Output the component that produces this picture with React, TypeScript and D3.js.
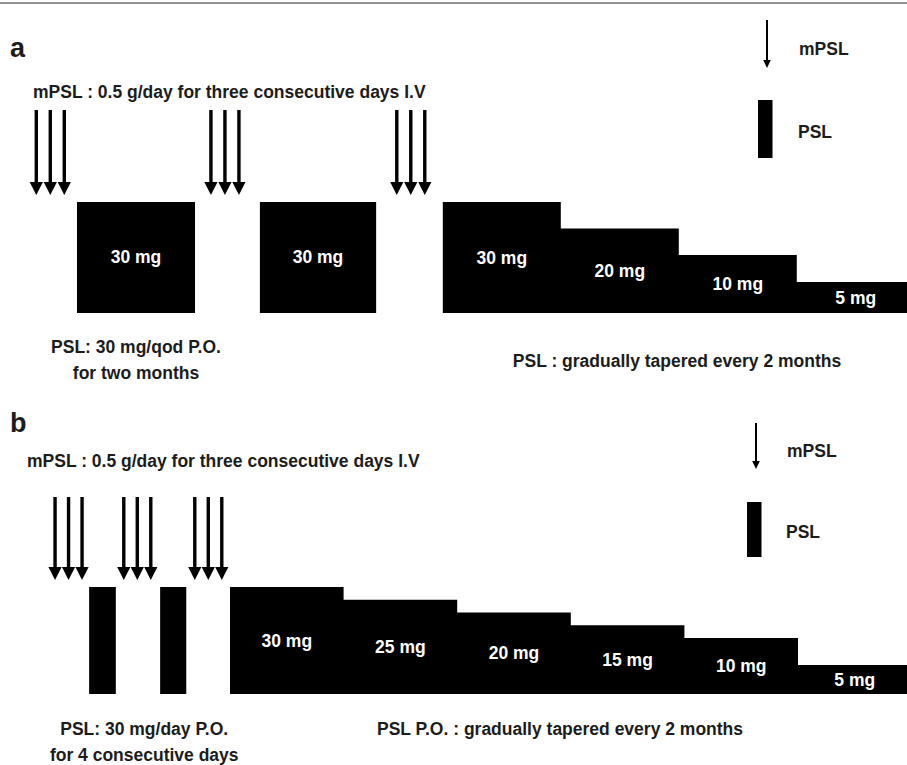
import { useEffect, useRef } from 'react';
import * as d3 from 'd3';

// Panel a: month (relative to first PSL course) of each first mPSL infusion
const A_PULSES = [-0.69, 2.27, 5.42];
// alternate-day PSL courses
const A_QOD_START = [0, 3.1];
const A_QOD_END = [2.0, 5.07];
const A_QOD_DOSE = [30, 30];
// taper
const A_TAPER_START = 6.2;
const A_TAPER_DOSES = [30, 20, 10, 5];

// Panel b
const B_PULSES = [-3.08, -1.87, -0.62];
const B_DAILY_START = [-2.48, -1.23];
const B_DAILY_END = [-2.01, -0.77];
const B_DAILY_DOSE = [30, 30];
const B_TAPER_START = 0;
const B_TAPER_DOSES = [30, 25, 20, 15, 10, 5];

const STEP_MONTHS = 2;
const PULSE_DAYS = 3;

const FONT = '"Liberation Sans", Arial, Helvetica, sans-serif';
const INK = '#1c1c1c';

type Panel = {
  letter: string;
  letterY: number;
  headerX: number;
  headerY: number;
  x: d3.ScaleLinear<number, number>;
  y: d3.ScaleLinear<number, number>;
  pulses: number[];
  dayGap: number;
  shaftTop: number;
  headBase: number;
  tip: number;
  courseStart: number[];
  courseEnd: number[];
  courseDose: number[];
  taperStart: number;
  taperDoses: number[];
  captions: { t: number; y: number; text: string }[];
  legend: { x: number; top: number; tip: number; textX: number; mY: number; rectTop: number; rectBottom: number; pY: number };
};

const App = () => {
  const svgRef = useRef<SVGSVGElement>(null);

  useEffect(() => {
    if (!svgRef.current) return;
    const svg = d3.select(svgRef.current);
    svg.selectAll('*').remove();

    const width = 907;
    const height = 765;

    // thin rule at the top of the figure
    svg.append('line')
      .attr('x1', 0).attr('x2', width)
      .attr('y1', 3).attr('y2', 3)
      .attr('stroke', '#6e6e6e')
      .attr('stroke-width', 1.5);

    const panels: Panel[] = [
      {
        letter: 'a',
        letterY: 57,
        headerX: 33,
        headerY: 98,
        x: d3.scaleLinear().domain([0, 14]).range([77, 77 + 14 * 59]),
        y: d3.scaleLinear().domain([0, 5, 10, 30]).range([313, 282, 255, 202]),
        pulses: A_PULSES,
        dayGap: 14,
        shaftTop: 110,
        headBase: 182,
        tip: 195,
        courseStart: A_QOD_START,
        courseEnd: A_QOD_END,
        courseDose: A_QOD_DOSE,
        taperStart: A_TAPER_START,
        taperDoses: A_TAPER_DOSES,
        captions: [
          { t: 1, y: 353, text: 'PSL: 30 mg/qod P.O.' },
          { t: 1, y: 379, text: 'for two months' },
          { t: 10.17, y: 367, text: 'PSL : gradually tapered every 2 months' },
        ],
        legend: { x: 767, top: 20, tip: 68, textX: 799, mY: 55, rectTop: 100, rectBottom: 158, pY: 138 },
      },
      {
        letter: 'b',
        letterY: 432,
        headerX: 27,
        headerY: 467,
        x: d3.scaleLinear().domain([0, 12]).range([230, 230 + 12 * 56.8]),
        y: d3.scaleLinear().domain([0, 5, 10, 30]).range([694, 665, 638, 587]),
        pulses: B_PULSES,
        dayGap: 13.5,
        shaftTop: 497,
        headBase: 567,
        tip: 580,
        courseStart: B_DAILY_START,
        courseEnd: B_DAILY_END,
        courseDose: B_DAILY_DOSE,
        taperStart: B_TAPER_START,
        taperDoses: B_TAPER_DOSES,
        captions: [
          { t: -1.51, y: 735, text: 'PSL: 30 mg/day P.O.' },
          { t: -1.51, y: 761, text: 'for 4 consecutive days' },
          { t: 5.81, y: 735, text: 'PSL P.O. : gradually tapered every 2 months' },
        ],
        legend: { x: 756, top: 423, tip: 469, textX: 787, mY: 457, rectTop: 502, rectBottom: 557, pY: 538 },
      },
    ];

    panels.forEach((p) => {
      const g = svg.append('g')
        .attr('font-family', FONT)
        .attr('font-weight', 'bold');

      g.append('text')
        .attr('x', 10)
        .attr('y', p.letterY)
        .attr('font-size', 27)
        .attr('fill', INK)
        .text(p.letter);

      g.append('text')
        .attr('x', p.headerX)
        .attr('y', p.headerY)
        .attr('font-size', 17.5)
        .attr('fill', INK)
        .text('mPSL : 0.5 g/day for three consecutive days I.V');

      // mPSL pulses: three thick arrows each
      p.pulses.forEach((t) => {
        d3.range(PULSE_DAYS).forEach((d) => {
          const cx = p.x(t) + d * p.dayGap;
          g.append('rect')
            .attr('x', cx - 1.7)
            .attr('y', p.shaftTop)
            .attr('width', 3.4)
            .attr('height', p.headBase - p.shaftTop + 1)
            .attr('fill', '#000');
          g.append('path')
            .attr('d', `M${cx - 6.6},${p.headBase}L${cx + 6.6},${p.headBase}L${cx},${p.tip}Z`)
            .attr('fill', '#000');
        });
      });

      const base = p.y(0);

      // oral PSL courses before the taper
      p.courseStart.forEach((s, i) => {
        const x0 = p.x(s);
        const x1 = p.x(p.courseEnd[i]);
        const top = p.y(p.courseDose[i]);
        g.append('rect')
          .attr('x', x0)
          .attr('y', top)
          .attr('width', x1 - x0)
          .attr('height', base - top)
          .attr('fill', '#000');
        if (x1 - x0 > 60) {
          g.append('text')
            .attr('x', (x0 + x1) / 2)
            .attr('y', (top + base) / 2 + 5)
            .attr('text-anchor', 'middle')
            .attr('font-size', 17.5)
            .attr('fill', '#fff')
            .text(`${p.courseDose[i]} mg`);
        }
      });

      // tapering staircase
      const steps = p.taperDoses.map((dose, i) => ({ t: p.taperStart + i * STEP_MONTHS, dose }));
      const last = steps[steps.length - 1];
      const area = d3.area<{ t: number; dose: number }>()
        .x((d) => p.x(d.t))
        .y0(base)
        .y1((d) => p.y(d.dose))
        .curve(d3.curveStepAfter);
      g.append('path')
        .datum([...steps, { t: last.t + STEP_MONTHS, dose: last.dose }])
        .attr('d', area)
        .attr('fill', '#000');

      steps.forEach((s) => {
        const top = p.y(s.dose);
        g.append('text')
          .attr('x', (p.x(s.t) + p.x(s.t + STEP_MONTHS)) / 2)
          .attr('y', (top + base) / 2 + 6)
          .attr('text-anchor', 'middle')
          .attr('font-size', 17.5)
          .attr('fill', '#fff')
          .text(`${s.dose} mg`);
      });

      p.captions.forEach((c) => {
        g.append('text')
          .attr('x', p.x(c.t))
          .attr('y', c.y)
          .attr('text-anchor', 'middle')
          .attr('font-size', 17.5)
          .attr('fill', INK)
          .text(c.text);
      });

      // legend
      const L = p.legend;
      g.append('line')
        .attr('x1', L.x).attr('x2', L.x)
        .attr('y1', L.top).attr('y2', L.tip - 7)
        .attr('stroke', '#000')
        .attr('stroke-width', 2);
      g.append('path')
        .attr('d', `M${L.x - 3.8},${L.tip - 8}L${L.x + 3.8},${L.tip - 8}L${L.x},${L.tip}Z`)
        .attr('fill', '#000');
      g.append('text')
        .attr('x', L.textX)
        .attr('y', L.mY)
        .attr('font-size', 17.5)
        .attr('fill', INK)
        .text('mPSL');
      g.append('rect')
        .attr('x', L.x - 9)
        .attr('y', L.rectTop)
        .attr('width', 14.5)
        .attr('height', L.rectBottom - L.rectTop)
        .attr('fill', '#000');
      g.append('text')
        .attr('x', L.textX - 1)
        .attr('y', L.pY)
        .attr('font-size', 17.5)
        .attr('fill', INK)
        .text('PSL');
    });

    svg.attr('width', width).attr('height', height);
  }, []);

  return (
    <svg
      ref={svgRef}
      width={907}
      height={765}
      style={{ position: 'absolute', left: 0, top: 0, background: '#fff' }}
    />
  );
};

export default App;
